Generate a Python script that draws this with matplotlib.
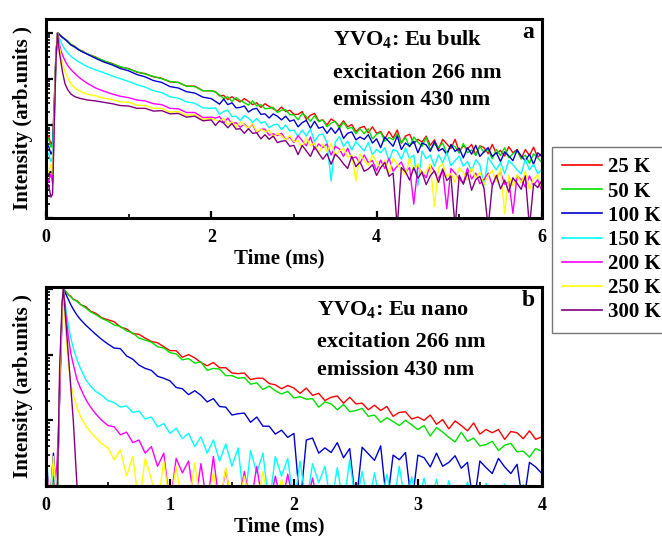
import numpy as np
import matplotlib
matplotlib.use("Agg")
import matplotlib.pyplot as plt
from matplotlib.ticker import LogLocator, NullFormatter, MultipleLocator
from matplotlib.lines import Line2D

plt.rcParams["font.family"] = "Liberation Serif"
plt.rcParams["font.weight"] = "bold"
plt.rcParams["mathtext.fontset"] = "custom"
plt.rcParams["mathtext.rm"] = "Liberation Serif:bold"
plt.rcParams["mathtext.bf"] = "Liberation Serif:bold"

labels = ["25 K", "50 K", "100 K", "150 K", "200 K", "250 K", "300 K"]
colors = ["#ff0000", "#00e000", "#0000d0", "#00ffff", "#ff00ff", "#ffff00", "#800080"]

# ---- panel a (bulk), time in ms, intensity as log10 ----
t_a = [0.00, 0.03, 0.06, 0.08, 0.10, 0.12, 0.14, 0.16, 0.18, 0.20, 0.23, 0.26, 0.30, 0.35, 0.40, 0.45, 0.50,
       0.6, 0.7, 0.8, 0.9, 1.0, 1.1, 1.2, 1.3, 1.4, 1.5, 1.6, 1.7, 1.8, 1.9, 2.0,
       2.05, 2.10, 2.15, 2.20, 2.25, 2.30, 2.35, 2.40, 2.45, 2.50, 2.55, 2.60, 2.65, 2.70, 2.75, 2.80,
       2.85, 2.90, 2.95, 3.00, 3.05, 3.10, 3.15, 3.20, 3.25, 3.30, 3.35, 3.40, 3.45, 3.50, 3.55, 3.60,
       3.65, 3.70, 3.75, 3.80, 3.85, 3.90, 3.95, 4.00, 4.05, 4.10, 4.15, 4.20, 4.25, 4.30, 4.35, 4.40,
       4.45, 4.50, 4.55, 4.60, 4.65, 4.70, 4.75, 4.80, 4.85, 4.90, 4.95, 5.00, 5.05, 5.10, 5.15, 5.20,
       5.25, 5.30, 5.35, 5.40, 5.45, 5.50, 5.55, 5.60, 5.65, 5.70, 5.75, 5.80, 5.85, 5.90, 5.95, 6.00]

bulk_25 = [-2.30, -2.22, -2.41, -2.33, -1.50, -0.45, 0.00,
           -0.03, -0.07, -0.09, -0.14, -0.17, -0.25, -0.29, -0.37, -0.40, -0.46,
           -0.52, -0.61, -0.66, -0.74, -0.77, -0.85, -0.88, -0.95, -0.98, -1.06,
           -1.07, -1.15, -1.15, -1.25, -1.25,
           -1.27, -1.36, -1.35, -1.44, -1.38, -1.44, -1.49, -1.42, -1.48, -1.55,
           -1.51, -1.61, -1.53, -1.59, -1.64, -1.69, -1.60, -1.70, -1.67, -1.76,
           -1.76, -1.70, -1.87, -1.78, -1.74, -1.90, -1.88, -1.99, -1.86, -1.92,
           -2.02, -1.90, -2.03, -1.98, -2.13, -2.05, -2.02, -2.16, -2.03, -2.17,
           -2.13, -2.29, -2.13, -2.27, -2.10, -2.38, -2.23, -2.19, -2.39, -2.30,
           -2.36, -2.23, -2.43, -2.31, -2.51, -2.30, -2.40, -2.50, -2.30, -2.57,
           -2.44, -2.51, -2.41, -2.64, -2.44, -2.48, -2.61, -2.41, -2.61, -2.54,
           -2.66, -2.46, -2.59, -2.52, -2.72, -2.52, -2.65, -2.47, -2.69, -2.60]
bulk_50 = [-2.36, -2.28, -2.47, -2.40, -1.55, -0.47, 0.00,
           -0.03, -0.06, -0.10, -0.13, -0.18, -0.24, -0.30, -0.36, -0.41, -0.45,
           -0.53, -0.60, -0.67, -0.73, -0.78, -0.84, -0.89, -0.94, -0.99, -1.05,
           -1.07, -1.15, -1.16, -1.25, -1.25,
           -1.28, -1.34, -1.42, -1.38, -1.48, -1.40, -1.46, -1.51, -1.56, -1.47,
           -1.58, -1.55, -1.64, -1.63, -1.61, -1.72, -1.67, -1.66, -1.77, -1.77,
           -1.88, -1.74, -1.81, -1.91, -1.79, -1.92, -1.88, -2.03, -1.95, -1.91,
           -2.06, -1.93, -2.07, -2.04, -2.18, -2.07, -2.18, -2.07, -2.29, -2.19,
           -2.15, -2.34, -2.26, -2.31, -2.18, -2.38, -2.26, -2.46, -2.25, -2.36,
           -2.45, -2.26, -2.52, -2.40, -2.47, -2.38, -2.61, -2.42, -2.46, -2.60,
           -2.39, -2.59, -2.53, -2.65, -2.45, -2.58, -2.52, -2.72, -2.52, -2.65,
           -2.48, -2.70, -2.61, -2.54, -2.72, -2.64, -2.82, -2.61, -2.70, -2.80]
bulk_100 = [-2.50, -2.44, -2.62, -2.55, -1.60, -0.50, 0.00,
            -0.03, -0.07, -0.10, -0.14, -0.19, -0.26, -0.31, -0.37, -0.42, -0.46,
            -0.55, -0.63, -0.69, -0.77, -0.82, -0.90, -0.95, -1.03, -1.07, -1.16,
            -1.19, -1.27, -1.30, -1.39, -1.42,
            -1.48, -1.54, -1.43, -1.55, -1.51, -1.62, -1.61, -1.58, -1.71, -1.65,
            -1.63, -1.76, -1.75, -1.84, -1.75, -1.80, -1.88, -1.80, -1.91, -1.88,
            -2.03, -1.94, -1.89, -2.06, -1.91, -2.06, -2.03, -2.17, -2.05, -2.17,
            -2.05, -2.28, -2.17, -2.14, -2.31, -2.25, -2.30, -2.20, -2.38, -2.29,
            -2.48, -2.25, -2.35, -2.45, -2.23, -2.52, -2.38, -2.45, -2.34, -2.59,
            -2.38, -2.42, -2.56, -2.35, -2.55, -2.50, -2.63, -2.41, -2.56, -2.49,
            -2.70, -2.48, -2.62, -2.43, -2.67, -2.57, -2.48, -2.67, -2.59, -2.78,
            -2.57, -2.66, -2.76, -2.53, -2.66, -2.76, -2.62, -2.84, -2.59, -2.67]
bulk_150 = [-2.70, -2.60, -2.78, -2.68, -1.70, -0.55, 0.00,
            -0.10, -0.19, -0.27, -0.36, -0.43, -0.50, -0.57, -0.63, -0.68, -0.73,
            -0.80, -0.86, -0.93, -0.99, -1.05, -1.12, -1.17, -1.25, -1.29, -1.38,
            -1.41, -1.49, -1.52, -1.62, -1.63,
            -1.62, -1.76, -1.70, -1.67, -1.81, -1.80, -1.89, -1.79, -1.84, -1.93,
            -1.85, -1.95, -1.92, -2.05, -1.99, -1.97, -2.09, -1.99, -2.12, -2.10,
            -2.24, -2.10, -2.23, -2.08, -2.35, -2.21, -2.18, -2.37, -3.20, -2.36,
            -2.24, -2.45, -2.34, -2.53, -2.35, -2.45, -2.55, -2.37, -2.63, -2.52,
            -2.59, -2.48, -2.76, -2.52, -2.56, -2.73, -2.49, -2.72, -2.64, -3.30,
            -2.55, -2.72, -2.64, -2.88, -2.64, -2.80, -2.59, -2.87, -2.76, -2.66,
            -2.88, -2.78, -2.99, -2.74, -2.85, -3.30, -2.69, -2.83, -2.96, -2.80,
            -3.04, -2.76, -2.85, -2.96, -3.05, -2.73, -2.96, -2.84, -3.04, -2.96]
bulk_200 = [-3.10, -3.22, -3.04, -3.25, -1.90, -0.60, 0.00,
            -0.22, -0.38, -0.48, -0.60, -0.70, -0.79, -0.88, -0.96, -1.03, -1.09,
            -1.19, -1.26, -1.32, -1.37, -1.40, -1.45, -1.47, -1.53, -1.55, -1.63,
            -1.64, -1.72, -1.72, -1.83, -1.82,
            -1.84, -1.81, -1.94, -1.84, -1.96, -1.94, -2.04, -1.97, -2.06, -1.98,
            -2.16, -2.08, -2.08, -2.21, -2.18, -2.22, -2.17, -2.30, -2.25, -2.37,
            -2.22, -2.33, -2.44, -2.25, -2.52, -2.40, -2.48, -2.40, -2.64, -2.45,
            -2.51, -2.67, -2.49, -2.71, -2.68, -2.82, -2.64, -2.80, -2.76, -2.98,
            -2.75, -2.93, -2.71, -2.99, -2.88, -2.79, -3.01, -2.91, -3.70, -2.89,
            -3.01, -3.13, -2.85, -3.00, -3.14, -2.97, -3.80, -2.93, -3.03, -3.15,
            -3.25, -2.92, -3.16, -3.03, -3.26, -3.17, -3.03, -3.29, -3.11, -3.01,
            -3.27, -3.21, -3.90, -3.09, -3.17, -3.33, -3.09, -3.29, -3.17, -3.41]
bulk_250 = [-2.90, -3.02, -2.84, -3.06, -1.80, -0.55, 0.00,
            -0.28, -0.50, -0.66, -0.84, -0.97, -1.10, -1.19, -1.25, -1.29, -1.32,
            -1.36, -1.41, -1.44, -1.49, -1.50, -1.56, -1.57, -1.63, -1.63, -1.71,
            -1.70, -1.78, -1.77, -1.87, -1.85,
            -1.88, -1.92, -1.85, -1.98, -1.92, -2.04, -1.93, -1.99, -2.06, -1.96,
            -2.13, -2.08, -2.14, -2.10, -2.26, -2.17, -2.22, -2.31, -2.22, -2.35,
            -2.33, -2.47, -2.27, -2.43, -2.38, -2.60, -2.40, -2.56, -2.39, -2.64,
            -2.55, -2.49, -2.69, -2.63, -3.20, -2.62, -2.75, -2.86, -2.64, -2.79,
            -2.93, -2.75, -3.04, -2.71, -2.83, -2.96, -3.07, -2.70, -2.98, -2.83,
            -3.08, -2.99, -2.84, -3.75, -2.92, -2.82, -3.11, -3.04, -3.23, -2.92,
            -3.01, -3.18, -2.91, -3.14, -3.01, -3.28, -3.08, -2.97, -3.22, -2.93,
            -3.90, -3.08, -3.31, -3.06, -3.25, -2.99, -3.38, -3.15, -3.07, -3.34]
bulk_300 = [-3.40, -3.28, -3.55, -3.48, -2.00, -0.60, 0.00,
            -0.40, -0.62, -0.85, -1.10, -1.22, -1.32, -1.38, -1.41, -1.43, -1.45,
            -1.47, -1.50, -1.53, -1.57, -1.58, -1.63, -1.63, -1.69, -1.68, -1.75,
            -1.74, -1.82, -1.80, -1.90, -1.88,
            -2.00, -1.90, -1.95, -2.05, -1.96, -2.08, -2.07, -2.17, -2.07, -2.17,
            -2.16, -2.29, -2.20, -2.30, -2.23, -2.37, -2.34, -2.33, -2.45, -2.43,
            -2.63, -2.43, -2.55, -2.67, -2.46, -2.60, -2.73, -2.61, -2.84, -2.62,
            -2.71, -2.83, -2.93, -2.67, -2.89, -2.79, -2.99, -2.94, -2.85, -3.08,
            -2.91, -2.80, -3.10, -3.03, -4.20, -2.91, -3.00, -3.18, -2.91, -3.14,
            -3.01, -3.28, -3.09, -2.98, -3.23, -2.94, -3.19, -3.10, -4.20, -3.08,
            -3.27, -3.01, -3.40, -3.17, -3.10, -3.36, -4.20, -3.30, -3.08, -3.37,
            -3.18, -3.44, -3.13, -3.25, -3.38, -3.09, -4.20, -3.26, -3.34, -3.19]

# ---- panel b (nano) ----
t_b = [0.00, 0.03, 0.06, 0.09, 0.11, 0.13, 0.14,
       0.16, 0.18, 0.20, 0.22, 0.25, 0.28, 0.32, 0.36, 0.40, 0.45, 0.50,
       0.55, 0.60, 0.65, 0.70, 0.75, 0.80, 0.85, 0.90, 0.95, 1.00,
       1.05, 1.10, 1.15, 1.20, 1.25, 1.30, 1.35, 1.40, 1.45, 1.50,
       1.55, 1.60, 1.65, 1.70, 1.75, 1.80, 1.85, 1.90, 1.95, 2.00,
       2.05, 2.10, 2.15, 2.20, 2.25, 2.30, 2.35, 2.40, 2.45, 2.50,
       2.55, 2.60, 2.65, 2.70, 2.75, 2.80, 2.85, 2.90, 2.95, 3.00,
       3.05, 3.10, 3.15, 3.20, 3.25, 3.30, 3.35, 3.40, 3.45, 3.50,
       3.55, 3.60, 3.65, 3.70, 3.75, 3.80, 3.85, 3.90, 3.95, 4.00]

nano_25 = [-2.70, -3.30, -2.85, -3.30, -1.50, -0.30, 0.00,
           -0.04, -0.09, -0.11, -0.16, -0.18, -0.24, -0.27, -0.34, -0.37, -0.44, -0.47,
           -0.50, -0.58, -0.61, -0.68, -0.69, -0.75, -0.80, -0.82, -0.88, -0.94,
           -0.94, -1.04, -1.00, -1.05, -1.12, -1.17, -1.12, -1.20, -1.20, -1.28,
           -1.29, -1.28, -1.38, -1.36, -1.36, -1.44, -1.46, -1.52, -1.47, -1.51,
           -1.59, -1.51, -1.62, -1.59, -1.70, -1.65, -1.63, -1.74, -1.65, -1.75,
           -1.74, -1.84, -1.77, -1.85, -1.79, -1.94, -1.88, -1.87, -1.98, -1.95,
           -2.00, -1.92, -2.06, -1.99, -2.13, -2.01, -2.08, -2.16, -2.04, -2.21,
           -2.14, -2.19, -2.14, -2.29, -2.17, -2.19, -2.28, -2.16, -2.29, -2.25]
nano_50 = [-2.80, -3.30, -2.95, -3.30, -1.55, -0.32, 0.00,
           -0.04, -0.09, -0.12, -0.16, -0.19, -0.24, -0.29, -0.35, -0.39, -0.45, -0.49,
           -0.55, -0.57, -0.64, -0.67, -0.75, -0.78, -0.81, -0.88, -0.90, -0.97,
           -0.99, -1.08, -1.06, -1.13, -1.11, -1.24, -1.21, -1.22, -1.32, -1.32,
           -1.36, -1.35, -1.45, -1.43, -1.53, -1.48, -1.55, -1.60, -1.56, -1.66,
           -1.64, -1.68, -1.67, -1.80, -1.72, -1.75, -1.84, -1.76, -1.87, -1.85,
           -1.82, -1.94, -1.92, -2.03, -1.96, -2.02, -2.08, -2.00, -2.07, -2.14,
           -2.08, -2.24, -2.11, -2.18, -2.26, -2.33, -2.18, -2.32, -2.27, -2.39,
           -2.37, -2.32, -2.46, -2.38, -2.35, -2.48, -2.47, -2.56, -2.43, -2.47]
nano_100 = [-2.60, -3.30, -2.50, -3.30, -1.50, -0.30, 0.00,
            -0.08, -0.16, -0.24, -0.31, -0.40, -0.47, -0.55, -0.62, -0.69, -0.77, -0.84,
            -0.90, -0.91, -1.02, -1.07, -1.16, -1.21, -1.24, -1.33, -1.36, -1.40,
            -1.50, -1.52, -1.61, -1.55, -1.62, -1.72, -1.67, -1.79, -1.80, -1.92,
            -1.90, -1.89, -2.03, -1.95, -2.09, -2.09, -2.21, -2.15, -2.26, -2.20,
            -3.30, -2.30, -2.27, -2.50, -2.42, -2.49, -2.34, -2.57, -2.43, -3.30,
            -2.41, -2.51, -2.61, -2.39, -3.30, -2.53, -2.60, -2.49, -3.30, -2.53,
            -2.57, -2.71, -2.50, -2.70, -2.64, -2.54, -2.73, -2.64, -3.30, -2.62,
            -2.72, -2.81, -2.58, -2.71, -2.81, -2.67, -3.30, -2.64, -2.71, -2.81]
nano_150 = [-2.40, -3.30, -2.70, -3.30, -1.60, -0.35, 0.00,
            -0.30, -0.55, -0.75, -0.90, -1.08, -1.22, -1.38, -1.48, -1.56, -1.62, -1.70,
            -1.73, -1.80, -1.78, -1.88, -1.86, -1.98, -1.95, -2.10, -2.05, -2.20,
            -2.12, -2.28, -2.20, -2.40, -2.25, -2.50, -2.30, -2.62, -2.36, -2.70,
            -2.42, -3.30, -2.46, -2.80, -2.50, -3.30, -2.55, -2.85, -2.58, -3.30,
            -2.62, -3.30, -2.66, -2.95, -2.70, -3.30, -2.72, -3.30, -2.60, -3.30,
            -2.78, -3.30, -2.80, -3.30, -2.82, -3.30, -2.70, -3.30, -2.86, -3.30,
            -2.88, -3.30, -2.90, -3.30, -2.92, -3.30, -3.30, -2.94, -3.30, -3.30,
            -2.96, -3.30, -3.30, -2.97, -3.30, -3.30, -2.98, -3.30, -3.30, -3.30]
nano_200 = [-2.50, -3.30, -3.30, -2.60, -1.70, -0.40, 0.00,
            -0.40, -0.72, -0.98, -1.15, -1.38, -1.52, -1.68, -1.80, -1.90, -2.00, -2.08,
            -2.10, -2.22, -2.18, -2.34, -2.30, -2.50, -2.40, -2.70, -2.50, -3.30,
            -2.58, -2.80, -2.62, -3.30, -2.66, -3.30, -2.55, -3.30, -2.75, -3.30,
            -3.30, -2.78, -3.30, -2.70, -3.30, -3.30, -2.85, -3.30, -2.82, -3.30,
            -3.30, -3.30, -2.88, -3.30, -3.30, -3.30, -3.30, -3.30, -3.30, -3.30,
            -3.30, -3.30, -3.30, -3.30, -3.30, -3.30, -3.30, -3.30, -3.30, -3.30,
            -3.30, -3.30, -3.30, -3.30, -3.30, -3.30, -3.30, -3.30, -3.30, -3.30,
            -3.30, -3.30, -3.30, -3.30, -3.30, -3.30, -3.30, -3.30, -3.30, -3.30]
nano_250 = [-2.70, -3.30, -2.55, -3.30, -1.40, -0.35, 0.00,
            -0.70, -1.15, -1.45, -1.62, -1.80, -1.95, -2.08, -2.18, -2.26, -2.36, -2.42,
            -2.60, -2.45, -2.85, -2.55, -3.30, -2.58, -2.90, -3.30, -2.62, -3.30,
            -2.70, -3.30, -3.30, -2.65, -3.30, -3.30, -2.80, -3.30, -2.72, -3.30,
            -3.30, -2.85, -3.30, -3.30, -2.78, -3.30, -3.30, -2.90, -3.30, -3.30,
            -3.30, -3.30, -3.30, -3.30, -3.30, -3.30, -3.30, -3.30, -3.30, -3.30,
            -3.30, -3.30, -3.30, -3.30, -3.30, -3.30, -3.30, -3.30, -3.30, -3.30,
            -3.30, -3.30, -3.30, -3.30, -3.30, -3.30, -3.30, -3.30, -3.30, -3.30,
            -3.30, -3.30, -3.30, -3.30, -3.30, -3.30, -3.30, -3.30, -3.30, -3.30]
nano_300 = [-2.80, -3.30, -3.30, -3.30, -1.20, -0.20, 0.00,
            -0.50, -1.00, -1.50, -2.00, -3.00, -3.30, -3.30, -3.30, -3.30, -3.30, -3.30,
            -3.30, -3.30, -3.30, -3.30, -3.30, -3.30, -3.30, -3.30, -3.30, -3.30,
            -3.30, -3.30, -3.30, -3.30, -3.30, -3.30, -3.30, -3.30, -3.30, -3.30,
            -3.30, -3.30, -3.30, -3.30, -3.30, -3.30, -3.30, -3.30, -3.30, -3.30,
            -3.30, -3.30, -3.30, -3.30, -3.30, -3.30, -3.30, -3.30, -3.30, -3.30,
            -3.30, -3.30, -3.30, -3.30, -3.30, -3.30, -3.30, -3.30, -3.30, -3.30,
            -3.30, -3.30, -3.30, -3.30, -3.30, -3.30, -3.30, -3.30, -3.30, -3.30,
            -3.30, -3.30, -3.30, -3.30, -3.30, -3.30, -3.30, -3.30, -3.30, -3.30]

bulk = [bulk_25, bulk_50, bulk_100, bulk_150, bulk_200, bulk_250, bulk_300]
nano = [nano_25, nano_50, nano_100, nano_150, nano_200, nano_250, nano_300]

fig = plt.figure(figsize=(6.62, 5.36), dpi=100)
ax1 = fig.add_axes([0.0695, 0.5933, 0.749, 0.3713])
ax2 = fig.add_axes([0.0695, 0.0933, 0.749, 0.3713])


def style(ax, xmax, ymin, ymax, major, minor):
    ax.set_yscale("log")
    ax.set_xlim(0, xmax)
    ax.set_ylim(ymin, ymax)
    ax.xaxis.set_major_locator(MultipleLocator(major))
    ax.xaxis.set_minor_locator(MultipleLocator(minor))
    ax.yaxis.set_major_locator(LogLocator(base=10, numticks=10))
    ax.yaxis.set_minor_locator(LogLocator(base=10, subs=np.arange(2, 10), numticks=10))
    ax.yaxis.set_minor_formatter(NullFormatter())
    ax.tick_params(which="both", direction="in", top=False, right=False, labelleft=False,
                   labelsize=13, pad=8)
    ax.tick_params(which="major", length=5, width=1.6)
    ax.tick_params(which="minor", length=3, width=1.2)
    for s in ax.spines.values():
        s.set_linewidth(2.2)
    ax.set_xlabel("Time (ms)", fontsize=15, fontweight="bold")
    ax.xaxis.set_label_coords(0.47, -0.155)
    ax.set_ylabel("Intensity (arb.units )", fontsize=15, fontweight="bold")
    ax.yaxis.set_label_coords(-0.026, 0.5)


for ys, c in zip(bulk, colors):
    ax1.plot(t_a, 10 ** np.array(ys), color=c, lw=1.0)
for ys, c in zip(nano, colors):
    ax2.plot(t_b, 10 ** np.array(ys), color=c, lw=1.0)

style(ax1, 6, 1e-4, 2.0, 2, 1)
style(ax2, 4, 1e-3, 1.07, 1, 0.5)

ax1.text(0.579, 0.894, r"YVO$_\mathbf{4}$: Eu bulk", transform=ax1.transAxes, fontsize=16, va="center")
ax1.text(0.579, 0.729, "excitation 266 nm", transform=ax1.transAxes, fontsize=16, va="center")
ax1.text(0.579, 0.593, "emission 430 nm", transform=ax1.transAxes, fontsize=16, va="center")
ax1.text(0.972, 0.93, "a", transform=ax1.transAxes, fontsize=17, ha="center", va="center")

ax2.text(0.546, 0.884, r"YVO$_\mathbf{4}$: Eu nano", transform=ax2.transAxes, fontsize=16, va="center")
ax2.text(0.546, 0.724, "excitation 266 nm", transform=ax2.transAxes, fontsize=16, va="center")
ax2.text(0.546, 0.583, "emission 430 nm", transform=ax2.transAxes, fontsize=16, va="center")
ax2.text(0.972, 0.93, "b", transform=ax2.transAxes, fontsize=17, ha="center", va="center")

handles = [Line2D([], [], color=c, lw=1.2) for c in colors]
fig.legend(handles, labels, loc="upper left", bbox_to_anchor=(0.8338, 0.7257),
           fontsize=15, frameon=True, fancybox=False, edgecolor="#555555",
           handlelength=1.92, handletextpad=0.29, labelspacing=0.2, borderpad=0.5,
           borderaxespad=0.0)

fig.savefig("out.png", dpi=100)
